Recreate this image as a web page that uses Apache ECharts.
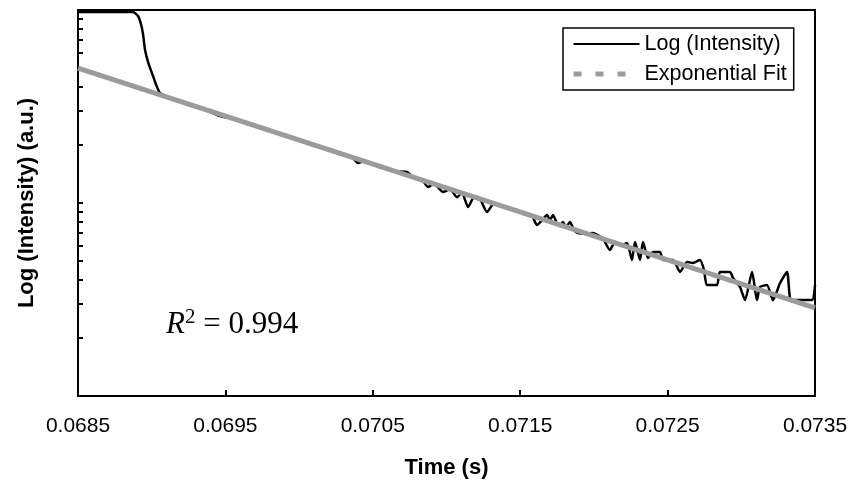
<!DOCTYPE html>
<html>
<head>
<meta charset="utf-8">
<script src="https://cdn.jsdelivr.net/npm/echarts@6/dist/echarts.min.js"></script>
<style>
  html, body { margin: 0; padding: 0; background: #fff; }
  #chart { width: 853px; height: 482px; }
</style>
</head>
<body>
<div id="chart"></div>
<script>
// measured signal (time in s, intensity in a.u., log axis)
const timeS = [
  0.068500, 0.068873, 0.068907, 0.068927, 0.068941, 0.068955, 0.068975, 0.069009, 0.069056, 0.069158,
  0.069260, 0.069362, 0.069463, 0.069565, 0.069667, 0.069769, 0.069870, 0.069972, 0.070074, 0.070176,
  0.070277, 0.070359, 0.070400, 0.070440, 0.070549, 0.070651, 0.070732, 0.070779, 0.070834, 0.070874,
  0.070915, 0.070976, 0.071024, 0.071071, 0.071105, 0.071146, 0.071187, 0.071227, 0.071275, 0.071322,
  0.071397, 0.071465, 0.071533, 0.071580, 0.071614, 0.071655, 0.071682, 0.071702, 0.071723, 0.071750,
  0.071770, 0.071790, 0.071811, 0.071838, 0.071865, 0.071892, 0.071940, 0.071994, 0.072062, 0.072109,
  0.072143, 0.072191, 0.072225, 0.072258, 0.072279, 0.072313, 0.072333, 0.072367, 0.072401, 0.072448,
  0.072469, 0.072537, 0.072584, 0.072632, 0.072672, 0.072720, 0.072747, 0.072767, 0.072835, 0.072855,
  0.072923, 0.072944, 0.072991, 0.073025, 0.073073, 0.073106, 0.073127, 0.073174, 0.073215, 0.073263,
  0.073310, 0.073330, 0.073351, 0.073480, 0.073500
]
const logIntensity = [
  97.6, 97.6, 93.1, 84.6, 75.1, 62.0, 53.8, 45.5, 37.2, 34.3,
  32.0, 30.5, 28.2, 27.2, 25.4, 24.5, 22.6, 21.5, 20.1, 19.2,
  17.9, 17.3, 16.1, 16.5, 15.3, 14.6, 14.5, 13.4, 13.2, 12.1,
  12.6, 11.4, 11.8, 10.7, 11.3, 9.53, 10.7, 10.5, 8.98, 9.94,
  9.53, 9.28, 8.72, 8.58, 7.69, 8.26, 8.67, 8.16, 8.67, 7.79,
  7.60, 7.97, 7.51, 7.97, 7.25, 6.99, 6.95, 6.99, 6.51, 5.71,
  6.28, 6.06, 6.20, 5.07, 6.28, 5.07, 6.28, 5.19, 5.57, 5.57,
  5.07, 5.07, 4.39, 4.95, 4.89, 5.07, 4.50, 3.76, 3.76, 4.39,
  4.39, 4.09, 3.67, 3.14, 4.39, 3.14, 3.67, 3.76, 3.14, 3.85,
  4.39, 3.22, 3.14, 3.14, 3.76
]

// exponential fit (straight on the log axis)
const fitTime = [0.0685, 0.0735]
const fitValue = [50, 2.86]

const xTicks = [0.0685, 0.0695, 0.0705, 0.0715, 0.0725, 0.0735]
const yTicks = [1, 2, 3, 4, 5, 6, 7, 8, 9, 10, 20, 30, 40, 50, 60, 70, 80, 90, 100]

const chart = echarts.init(document.getElementById('chart'))

const black = '#000'
const font = 'Liberation Sans, Arial, sans-serif'

const option = {
  backgroundColor: '#fff',
  animation: false,
  textStyle: { fontFamily: font },
  grid: {
    left: 78,
    right: 38,
    top: 10,
    bottom: 86,
    outerBoundsMode: 'none',
    show: true,
    borderColor: black,
    borderWidth: 2
  },
  legend: {
    orient: 'vertical',
    left: 563,
    top: 28,
    itemWidth: 66,
    itemHeight: 14,
    itemGap: 8,
    itemTextGap: 3,
    padding: [5, 7, 5, 8],
    borderColor: black,
    borderWidth: 1.5,
    itemStyle: { opacity: 0 },
    textStyle: { fontSize: 21.5, color: black, fontFamily: font },
    data: [
      { name: 'Log (Intensity)' },
      { name: 'Exponential Fit', lineStyle: { type: [8, 14], width: 5 } }
    ]
  },
  xAxis: {
    type: 'value',
    min: 0.0685,
    max: 0.0735,
    name: 'Time (s)',
    nameLocation: 'middle',
    nameGap: 61,
    nameTextStyle: { fontSize: 22, fontWeight: 'bold', color: black, fontFamily: font },
    axisLine: { lineStyle: { color: black, width: 2 } },
    axisTick: {
      inside: true,
      length: 6,
      customValues: xTicks,
      lineStyle: { color: black, width: 2 }
    },
    axisLabel: {
      customValues: xTicks,
      formatter: v => v.toFixed(4),
      fontSize: 21,
      color: black,
      margin: 20,
      fontFamily: font
    },
    splitLine: { show: false }
  },
  yAxis: {
    type: 'log',
    logBase: 10,
    min: 1,
    max: 100,
    name: 'Log (Intensity) (a.u.)',
    nameLocation: 'middle',
    nameGap: 40,
    nameTextStyle: { fontSize: 22, fontWeight: 'bold', color: black, fontFamily: font },
    axisLine: { show: true, lineStyle: { color: black, width: 2 } },
    axisTick: {
      show: true,
      inside: true,
      length: 5,
      customValues: yTicks,
      lineStyle: { color: black, width: 2 }
    },
    axisLabel: { show: false },
    splitLine: { show: false }
  },
  graphic: [
    {
      type: 'text',
      left: 166,
      top: 307,
      style: {
        text: '{r|R}{s|2}{n| = 0.994}',
        fill: black,
        rich: {
          r: { fontFamily: 'Liberation Serif', fontStyle: 'italic', fontSize: 31, lineHeight: 36 },
          s: { fontFamily: 'Liberation Serif', fontSize: 21, lineHeight: 21, verticalAlign: 'top' },
          n: { fontFamily: 'Liberation Serif', fontSize: 31, lineHeight: 36 }
        }
      }
    }
  ],
  series: [
    {
      name: 'Log (Intensity)',
      type: 'line',
      data: timeS.map((t, i) => [t, logIntensity[i]]),
      symbol: 'none',
      smooth: 0.2,
      lineStyle: { color: black, width: 2.5 },
      itemStyle: { color: black },
      z: 2
    },
    {
      name: 'Exponential Fit',
      type: 'line',
      data: fitTime.map((t, i) => [t, fitValue[i]]),
      symbol: 'none',
      lineStyle: { color: '#9b9b9b', width: 5 },
      itemStyle: { color: '#9b9b9b' },
      z: 3
    }
  ]
}

chart.setOption(option)
</script>
</body>
</html>
